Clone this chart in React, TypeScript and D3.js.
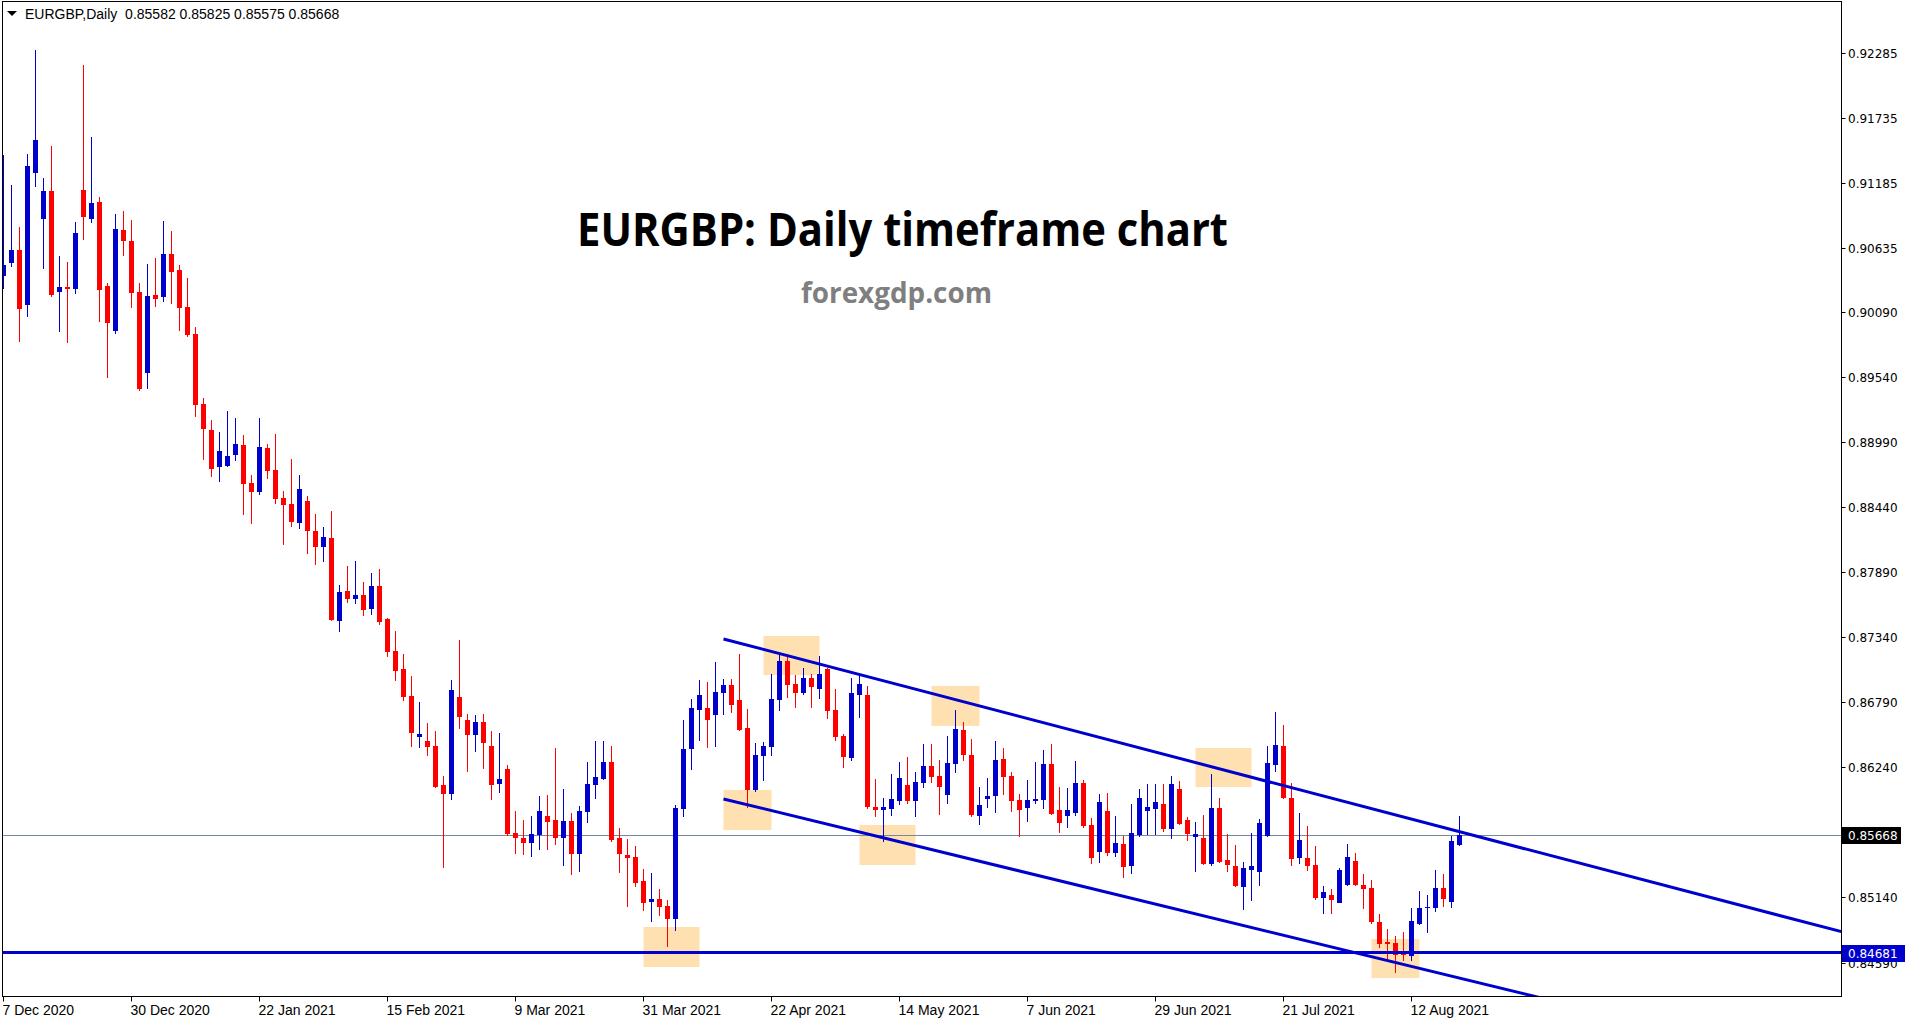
import React from 'react';
import * as d3 from 'd3';

// ---- OHLC data (EURGBP daily, bar 0 = 7 Dec 2020) ----
const opens = [0.90395,0.90505,0.90615,0.90150,0.91266,0.90877,0.91113,0.90260,0.90302,0.90285,0.91122,0.90877,0.91021,0.90311,0.89930,0.90784,0.90691,0.90260,0.89575,0.90235,0.90218,0.90581,0.90446,0.90133,0.89904,0.89313,0.89093,0.88780,0.88789,0.88882,0.88966,0.88645,0.88569,0.88941,0.88755,0.88518,0.88467,0.88306,0.88493,0.88239,0.88104,0.88180,0.87477,0.87731,0.87664,0.87698,0.87579,0.87774,0.87494,0.87224,0.87072,0.86843,0.86497,0.86463,0.86421,0.86091,0.86015,0.86835,0.86641,0.86514,0.86624,0.86421,0.86100,0.86227,0.85685,0.85643,0.85600,0.85668,0.85829,0.85795,0.85643,0.85786,0.85507,0.85863,0.86091,0.86142,0.86286,0.85643,0.85499,0.85482,0.85279,0.85102,0.85127,0.85068,0.84958,0.85888,0.86396,0.86725,0.86742,0.86683,0.86869,0.86936,0.86810,0.86573,0.86049,0.86336,0.86413,0.86810,0.87139,0.86945,0.86869,0.86995,0.86902,0.87072,0.86725,0.86506,0.86320,0.86852,0.86852,0.85905,0.85879,0.85888,0.85956,0.86091,0.85956,0.86108,0.86252,0.86167,0.86007,0.86269,0.86556,0.86345,0.85829,0.85973,0.85998,0.86311,0.86167,0.85964,0.85896,0.85956,0.85964,0.86269,0.85879,0.85829,0.85854,0.86108,0.85753,0.85524,0.85871,0.85516,0.85592,0.85406,0.85668,0.85871,0.85888,0.85930,0.85719,0.86057,0.85795,0.85651,0.85643,0.85423,0.85896,0.85457,0.85406,0.85228,0.85372,0.85355,0.85660,0.86260,0.86421,0.85981,0.85474,0.85474,0.85414,0.85136,0.85161,0.85094,0.85245,0.85448,0.85245,0.85220,0.84933,0.84764,0.84755,0.84671,0.84646,0.84916,0.85051,0.85051,0.85220,0.85102,0.85582];
const highs = [0.91418,0.91164,0.90810,0.91426,0.92306,0.91223,0.91494,0.90564,0.90514,0.90852,0.92179,0.91570,0.91063,0.90336,0.90920,0.90945,0.90869,0.90336,0.90497,0.90548,0.90860,0.90776,0.90488,0.90378,0.89964,0.89363,0.89178,0.89076,0.89254,0.89195,0.89051,0.88713,0.89195,0.88975,0.89059,0.88577,0.88848,0.88713,0.88535,0.88383,0.88273,0.88408,0.87782,0.87943,0.87985,0.87808,0.87884,0.87918,0.87503,0.87393,0.87198,0.87012,0.86793,0.86615,0.86548,0.86167,0.86978,0.87317,0.86692,0.86683,0.86692,0.86548,0.86531,0.86260,0.85871,0.85795,0.85829,0.85998,0.86007,0.86404,0.86057,0.85854,0.85913,0.86286,0.86463,0.86463,0.86421,0.85727,0.85634,0.85575,0.85381,0.85347,0.85211,0.85119,0.85922,0.86641,0.86818,0.86978,0.86962,0.87131,0.86987,0.86987,0.87198,0.86734,0.86446,0.86455,0.87029,0.87198,0.87198,0.87021,0.87080,0.87029,0.87181,0.87080,0.86902,0.86522,0.86995,0.87021,0.86928,0.86142,0.85981,0.86184,0.86286,0.86328,0.86201,0.86438,0.86438,0.86303,0.86506,0.86725,0.86624,0.86480,0.86074,0.86150,0.86463,0.86404,0.86201,0.86015,0.86133,0.86286,0.86387,0.86438,0.86074,0.86066,0.86294,0.86133,0.85812,0.86015,0.86024,0.85829,0.85660,0.85930,0.86057,0.86100,0.86100,0.86100,0.86167,0.86125,0.85820,0.85778,0.85837,0.86184,0.85981,0.85676,0.85583,0.85440,0.85685,0.85803,0.86421,0.86709,0.86599,0.86108,0.85854,0.85744,0.85575,0.85237,0.85211,0.85389,0.85592,0.85516,0.85338,0.85287,0.85001,0.84874,0.84814,0.84848,0.85051,0.85195,0.85161,0.85372,0.85338,0.85660,0.85825];
const lows = [0.90285,0.90471,0.89837,0.90048,0.91147,0.90455,0.90218,0.89921,0.89828,0.90243,0.90700,0.90843,0.90006,0.89532,0.89904,0.90564,0.90124,0.89422,0.89439,0.90133,0.90175,0.90158,0.89930,0.89879,0.89203,0.88840,0.88696,0.88654,0.88780,0.88831,0.88374,0.88298,0.88544,0.88679,0.88467,0.88120,0.88273,0.88256,0.88044,0.87951,0.87977,0.87477,0.87384,0.87630,0.87621,0.87520,0.87528,0.87444,0.87173,0.86970,0.86802,0.86413,0.86404,0.86336,0.86066,0.85389,0.85964,0.86565,0.86201,0.86370,0.86227,0.85964,0.86024,0.85660,0.85507,0.85499,0.85482,0.85541,0.85541,0.85583,0.85406,0.85330,0.85355,0.85769,0.85973,0.86133,0.85609,0.85347,0.85060,0.85228,0.85026,0.84933,0.84984,0.84722,0.84857,0.85820,0.86218,0.86463,0.86404,0.86413,0.86683,0.86700,0.86548,0.85896,0.86032,0.86125,0.86336,0.86717,0.86826,0.86742,0.86852,0.86742,0.86818,0.86649,0.86463,0.86235,0.86294,0.86658,0.85888,0.85820,0.85609,0.85829,0.85922,0.85930,0.85820,0.86066,0.86108,0.85837,0.85930,0.86193,0.86294,0.85820,0.85753,0.85896,0.85854,0.86007,0.85863,0.85651,0.85778,0.85930,0.85888,0.85837,0.85685,0.85727,0.85829,0.85727,0.85423,0.85431,0.85490,0.85482,0.85304,0.85338,0.85651,0.85668,0.85668,0.85693,0.85634,0.85753,0.85617,0.85355,0.85414,0.85406,0.85431,0.85355,0.85228,0.85034,0.85110,0.85236,0.85651,0.86201,0.85973,0.85406,0.85423,0.85364,0.85119,0.85001,0.85001,0.85090,0.85240,0.85237,0.85043,0.84916,0.84713,0.84612,0.84502,0.84603,0.84603,0.84908,0.84840,0.85017,0.85060,0.85051,0.85575];
const closes = [0.90488,0.90615,0.90116,0.91325,0.91545,0.91113,0.90235,0.90302,0.90285,0.90759,0.90894,0.91013,0.90277,0.89997,0.90793,0.90691,0.90252,0.89439,0.90226,0.90201,0.90581,0.90429,0.90124,0.89896,0.89305,0.89102,0.88764,0.88916,0.88873,0.88975,0.88637,0.88569,0.88950,0.88747,0.88510,0.88459,0.88315,0.88594,0.88239,0.88104,0.88188,0.87486,0.87723,0.87664,0.87698,0.87570,0.87774,0.87469,0.87215,0.87055,0.86835,0.86531,0.86522,0.86413,0.86074,0.86015,0.86894,0.86666,0.86514,0.86624,0.86446,0.86091,0.86142,0.85676,0.85643,0.85600,0.85676,0.85871,0.85778,0.85643,0.85786,0.85507,0.85871,0.86100,0.86159,0.86286,0.85626,0.85507,0.85474,0.85262,0.85094,0.85127,0.85060,0.84958,0.85896,0.86396,0.86742,0.86852,0.86641,0.86877,0.86936,0.86768,0.86556,0.86049,0.86345,0.86421,0.86818,0.87139,0.86936,0.86869,0.86995,0.86919,0.87029,0.86717,0.86497,0.86328,0.86869,0.86945,0.85905,0.85879,0.85905,0.85973,0.86150,0.85956,0.86117,0.86252,0.86159,0.86074,0.86277,0.86565,0.86345,0.85837,0.85922,0.85998,0.86303,0.86159,0.85956,0.85879,0.85964,0.85973,0.86269,0.85846,0.85769,0.85879,0.86108,0.85744,0.85474,0.85947,0.85516,0.85600,0.85397,0.85685,0.85981,0.85905,0.85947,0.85719,0.86100,0.85761,0.85676,0.85676,0.85423,0.85896,0.85440,0.85414,0.85236,0.85389,0.85406,0.85769,0.86277,0.86430,0.85981,0.85465,0.85626,0.85406,0.85136,0.85186,0.85119,0.85372,0.85482,0.85245,0.85211,0.84933,0.84747,0.84747,0.84654,0.84654,0.84941,0.85051,0.85060,0.85220,0.85127,0.85617,0.85668];

// ---- axis labels ----
const dateLabels = ['7 Dec 2020','30 Dec 2020','22 Jan 2021','15 Feb 2021','9 Mar 2021','31 Mar 2021','22 Apr 2021','14 May 2021','7 Jun 2021','29 Jun 2021','21 Jul 2021','12 Aug 2021'];
const dateLabelBars = [0,16,32,48,64,80,96,112,128,144,160,176];
const priceTicks = [0.92285,0.91735,0.91185,0.90635,0.90090,0.89540,0.88990,0.88440,0.87890,0.87340,0.86790,0.86240,0.85140,0.84590];

// ---- annotations ----
const boxStartBars = [80,90,95,107,116,149,171];
const boxEndBars = [87,96,102,114,122,156,177];
const boxTopPrices = [0.84890,0.86049,0.87351,0.85753,0.86928,0.86404,0.84789];
const boxBottomPrices = [0.84552,0.85710,0.87021,0.85414,0.86590,0.86074,0.84459];
const upperChannelBars = [90,182];
const upperChannelPrices = [0.87326,0.85697];
const lowerChannelBars = [90,182];
const lowerChannelPrices = [0.85973,0.84459];
const supportLevel = 0.84681;
const lastPrice = 0.85668;
const headerText = 'EURGBP,Daily  0.85582 0.85825 0.85575 0.85668';

const BLUE = '#0000CD';
const RED = '#FF0000';

export default function App() {
  const W = 1913, H = 1023;
  const plotL = 2.5, plotR = 1841.5, plotT = 1.5, plotB = 996.5;
  const n = opens.length;
  const x = d3.scaleLinear().domain([0, n - 1]).range([3, 3 + 8 * (n - 1)]);
  const y = d3.scaleLinear().domain([0.8459, 0.92285]).range([962.5, 52.5]);
  const barEnd = x.invert(plotR);

  const ray = (bars: number[], prices: number[]) => {
    const slope = (prices[1] - prices[0]) / (bars[1] - bars[0]);
    const pEnd = prices[0] + slope * (barEnd - bars[0]);
    return d3.line()([[x(bars[0]) + 0.5, y(prices[0])], [plotR, y(pEnd)]]) || '';
  };

  const fmt = d3.format('.5f');
  const yLast = Math.round(y(lastPrice));
  const ySup = Math.round(y(supportLevel));

  return (
    <svg width={W} height={H} style={{ position: 'absolute', left: 0, top: 0, background: '#fff' }}>
      <defs>
        <clipPath id="plot">
          <rect x={plotL + 0.5} y={plotT + 0.5} width={plotR - plotL - 1} height={plotB - plotT - 1} />
        </clipPath>
      </defs>
      <rect x={0} y={0} width={W} height={H} fill="#fff" />
      <g clipPath="url(#plot)">
        {boxStartBars.map((b, i) => (
          <rect key={'bx' + i} x={x(b) + 0.5} y={y(boxTopPrices[i])} width={x(boxEndBars[i]) - x(b)}
            height={y(boxBottomPrices[i]) - y(boxTopPrices[i])} fill="#FFE0B0" />
        ))}
        <line x1={0} x2={plotR} y1={yLast + 0.5} y2={yLast + 0.5} stroke="#778899" strokeWidth={1} />
        <g shapeRendering="crispEdges">
          {opens.map((o, i) => {
            const c = closes[i];
            const col = c >= o ? BLUE : RED;
            const cx = Math.round(x(i));
            const yh = Math.round(y(highs[i]));
            const yl = Math.round(y(lows[i]));
            const yt = Math.round(y(Math.max(o, c)));
            const yb = Math.round(y(Math.min(o, c)));
            return (
              <g key={i}>
                <rect x={cx} y={yh} width={1} height={Math.max(1, yl - yh)} fill={col} />
                <rect x={cx - 2} y={yt} width={5} height={Math.max(1, yb - yt)} fill={col} />
              </g>
            );
          })}
        </g>
        <path d={ray(upperChannelBars, upperChannelPrices)} stroke={BLUE} strokeWidth={3} fill="none" />
        <path d={ray(lowerChannelBars, lowerChannelPrices)} stroke={BLUE} strokeWidth={3} fill="none" />
        <line x1={0} x2={plotR} y1={ySup + 0.5} y2={ySup + 0.5} stroke={BLUE} strokeWidth={3} />
      </g>

      {/* header */}
      <path d="M7,11 L17,11 L12,16 Z" fill="#000" />
      <text x={25} y={19} fontFamily="'Liberation Sans', Arial, sans-serif" fontSize={14} fill="#000" style={{ whiteSpace: 'pre' }}>{headerText}</text>

      {/* title */}
      <text x={577} y={246} fontFamily="'Open Sans', sans-serif" fontWeight="bold" fontSize={46}
        textLength={651} lengthAdjust="spacingAndGlyphs" fill="#000">EURGBP: Daily timeframe chart</text>
      <text x={801} y={303} fontFamily="'Open Sans', sans-serif" fontWeight="bold" fontSize={28}
        textLength={191} lengthAdjust="spacingAndGlyphs" fill="#7F7F7F">forexgdp.com</text>

      {/* frame */}
      <rect x={plotL} y={plotT} width={plotR - plotL} height={plotB - plotT} fill="none" stroke="#000" strokeWidth={1} shapeRendering="crispEdges" />

      {/* price axis */}
      <g fontFamily="'DejaVu Sans', Verdana, sans-serif" fontSize={12} fill="#000">
        {priceTicks.map((p) => {
          const yy = Math.round(y(p));
          return (
            <g key={p}>
              <line x1={plotR} x2={plotR + 4} y1={yy + 0.5} y2={yy + 0.5} stroke="#000" />
              <text x={1848} y={yy + 4.5}>{fmt(p)}</text>
            </g>
          );
        })}
        <rect x={1842} y={yLast - 8} width={59} height={17} fill="#000" />
        <text x={1848} y={yLast + 5} fill="#fff">{fmt(lastPrice)}</text>
        <rect x={1842} y={ySup - 7} width={63} height={17} fill={BLUE} />
        <text x={1848} y={ySup + 6} fill="#fff">{fmt(supportLevel)}</text>
      </g>

      {/* time axis */}
      <g fontFamily="'Liberation Sans', Arial, sans-serif" fontSize={14} fill="#000">
        {dateLabelBars.map((b, i) => {
          const xx = Math.round(x(b)) + 0.5;
          return (
            <g key={b}>
              <line x1={xx} x2={xx} y1={plotB} y2={plotB + 5} stroke="#000" />
              <text x={xx - 1} y={1015}>{dateLabels[i]}</text>
            </g>
          );
        })}
      </g>
    </svg>
  );
}
